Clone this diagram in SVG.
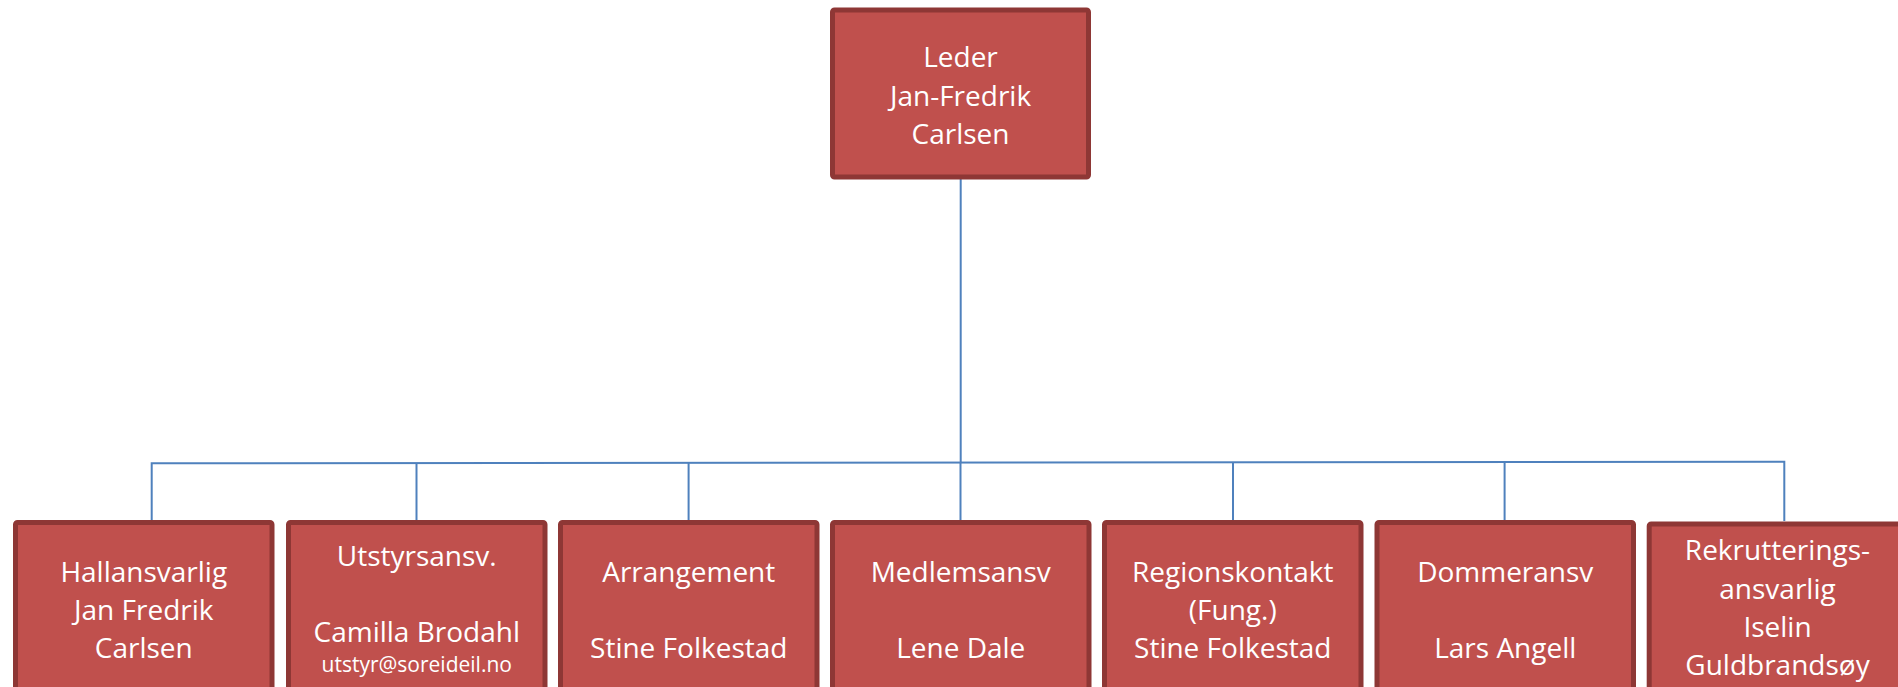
<svg xmlns="http://www.w3.org/2000/svg" width="1898" height="687" viewBox="0 0 1898 687">
<style>
.box{fill:#C0504D;stroke:#8E3735;stroke-width:5}
.t{font-family:"Open Sans","Liberation Sans",sans-serif;font-size:28px;fill:#FFFFFF;text-anchor:middle}
.s{font-size:21px}
.c{fill:none;stroke:#4F81BD;stroke-width:2}
</style>
<rect width="1898" height="687" fill="#FFFFFF"/>
<g id="connectors">
<path class="c" d="M960.7,179 V463"/>
<path class="c" d="M151.7,521 V463.3 L1784.3,461.7 V521"/>
<path class="c" d="M416.5,463 V521"/>
<path class="c" d="M688.6,463 V521"/>
<path class="c" d="M960.5,463 V521"/>
<path class="c" d="M1233,462.5 V521"/>
<path class="c" d="M1504.6,462 V521"/>
</g>
<g id="leder">
<rect class="box" x="832.5" y="10" width="256" height="167" rx="2"/>
<text class="t" x="960.5" y="67">Leder</text>
<text class="t" x="960.5" y="105.5">Jan-Fredrik</text>
<text class="t" x="960.5" y="144">Carlsen</text>
</g>
<g id="hallansvarlig">
<rect class="box" x="15.5" y="522.5" width="256.5" height="167" rx="2"/>
<text class="t" x="143.75" y="581.5">Hallansvarlig</text>
<text class="t" x="143.75" y="619.5">Jan Fredrik</text>
<text class="t" x="143.75" y="658">Carlsen</text>
</g>
<g id="utstyrsansv">
<rect class="box" x="288.5" y="522.5" width="256.5" height="167" rx="2"/>
<text class="t" x="416.75" y="565.5">Utstyrsansv.</text>
<text class="t" x="416.75" y="642">Camilla Brodahl</text>
<text class="t s" x="416.75" y="672">utstyr@soreideil.no</text>
</g>
<g id="arrangement">
<rect class="box" x="560.5" y="522.5" width="256.5" height="167" rx="2"/>
<text class="t" x="688.75" y="581.5">Arrangement</text>
<text class="t" x="688.75" y="658">Stine Folkestad</text>
</g>
<g id="medlemsansv">
<rect class="box" x="832.5" y="522.5" width="256.5" height="167" rx="2"/>
<text class="t" x="960.75" y="581.5">Medlemsansv</text>
<text class="t" x="960.75" y="658">Lene Dale</text>
</g>
<g id="regionskontakt">
<rect class="box" x="1104.5" y="522.5" width="256.5" height="167" rx="2"/>
<text class="t" x="1232.75" y="581.5">Regionskontakt</text>
<text class="t" x="1232.75" y="619.5">(Fung.)</text>
<text class="t" x="1232.75" y="658">Stine Folkestad</text>
</g>
<g id="dommeransv">
<rect class="box" x="1377" y="522.5" width="256.5" height="167" rx="2"/>
<text class="t" x="1505.25" y="581.5">Dommeransv</text>
<text class="t" x="1505.25" y="658">Lars Angell</text>
</g>
<g id="rekruttering">
<rect class="box" x="1649.2" y="524" width="256.5" height="167" rx="2"/>
<text class="t" x="1777.5" y="560">Rekrutterings-</text>
<text class="t" x="1777.5" y="599">ansvarlig</text>
<text class="t" x="1777.5" y="636.5">Iselin</text>
<text class="t" x="1777.5" y="674.5">Guldbrandsøy</text>
</g>
</svg>
